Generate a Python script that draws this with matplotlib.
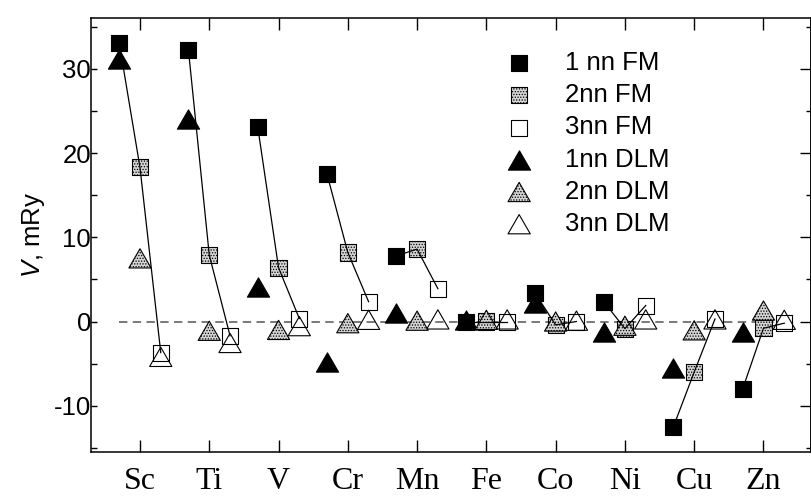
import matplotlib
matplotlib.use("Agg")
import matplotlib.pyplot as plt
from matplotlib.path import Path
from matplotlib.ticker import MultipleLocator
import numpy as np

# Pair interaction parameters V (mRy) for 3d impurities
elements = ['Sc', 'Ti', 'V', 'Cr', 'Mn', 'Fe', 'Co', 'Ni', 'Cu', 'Zn']
fm_1nn = [33.1, 32.2, 23.1, 17.5, 7.8, 0.0, 3.4, 2.3, -12.5, -8.0]
fm_2nn = [18.3, 7.9, 6.4, 8.2, 8.6, 0.0, -0.4, -0.85, -6.0, -0.8]
fm_3nn = [-3.7, -1.7, 0.35, 2.35, 3.9, 0.0, 0.0, 1.9, 0.3, -0.2]
dlm_1nn = [31.2, 24.0, 4.1, -4.8, 1.05, 0.2, 2.2, -1.3, -5.5, -1.3]
dlm_2nn = [7.5, -1.1, -1.0, -0.2, 0.1, 0.2, 0.0, -0.5, -1.05, 1.3]
dlm_3nn = [-4.2, -2.55, -0.55, 0.2, 0.25, 0.25, 0.1, 0.25, 0.25, 0.2]

plt.rcParams['font.family'] = ['Liberation Sans', 'DejaVu Sans']
plt.rcParams['mathtext.fontset'] = 'custom'
plt.rcParams['mathtext.it'] = 'Liberation Sans:italic'
plt.rcParams['mathtext.rm'] = 'Liberation Sans'
plt.rcParams['hatch.linewidth'] = 0.6
plt.rcParams['axes.unicode_minus'] = False

fig = plt.figure(figsize=(8.11, 4.98), dpi=100)
ax = fig.add_axes([91 / 811, 1 - 452 / 498, 1 - 91 / 811 - 0.0005, (452 - 18) / 498])

x = np.arange(len(elements))
shift = 0.3
pos1, pos2, pos3 = x - shift, x, x + shift

tri = Path([(0, 0.866), (-1, -0.866), (1, -0.866), (0, 0.866)],
           [Path.MOVETO, Path.LINETO, Path.LINETO, Path.CLOSEPOLY])
sq_size = 11.6 ** 2
tri_size = 16.0 ** 2
stipple = dict(facecolor='#d4d4d4', hatch='......', edgecolor='black')

# zero reference line
ax.plot([pos1[0], pos3[-1]], [0, 0], color='#555555', lw=1.1,
        dashes=(5.5, 3.5), zorder=1)

h1 = ax.scatter(pos1, fm_1nn, s=sq_size, marker='s', facecolor='black',
                edgecolor='black', linewidth=0.8, zorder=3, label='1 nn FM')
h2 = ax.scatter(pos2, fm_2nn, s=sq_size, marker='s', linewidth=0.8,
                zorder=3, label='2nn FM', **stipple)
h3 = ax.scatter(pos3, fm_3nn, s=sq_size, marker='s', facecolor='white',
                edgecolor='black', linewidth=0.8, zorder=3, label='3nn FM')
h4 = ax.scatter(pos1, dlm_1nn, s=tri_size, marker=tri, facecolor='black',
                edgecolor='black', linewidth=0.8, zorder=4, label='1nn DLM')
h5 = ax.scatter(pos2, dlm_2nn, s=tri_size, marker=tri, linewidth=0.8,
                zorder=4, label='2nn DLM', **stipple)
h6 = ax.scatter(pos3, dlm_3nn, s=tri_size, marker=tri, facecolor='none',
                edgecolor='black', linewidth=0.8, zorder=4, label='3nn DLM')

# FM parameters of each element joined 1nn -> 2nn -> 3nn
for i in range(len(elements)):
    ax.plot([pos1[i], pos2[i], pos3[i]], [fm_1nn[i], fm_2nn[i], fm_3nn[i]],
            color='black', lw=0.9, zorder=5)

ax.set_xlim(-0.707, 9.68)
ax.set_ylim(-15.5, 36.05)

ax.set_xticks(x)
ax.set_xticklabels(elements, family='Liberation Serif', fontsize=23)
ax.yaxis.set_major_locator(MultipleLocator(10))
ax.yaxis.set_minor_locator(MultipleLocator(5))
ax.tick_params(axis='x', direction='in', length=8.6, width=1.0,
               top=True, bottom=True, pad=10.5)
ax.tick_params(axis='y', which='both', direction='in', length=4.3, width=1.0,
               labelsize=18.5, pad=0, left=True, right=False)

right = ax.secondary_yaxis('right')
right.yaxis.set_major_locator(MultipleLocator(10))
right.yaxis.set_minor_locator(MultipleLocator(5))
right.tick_params(which='major', direction='in', length=8, width=1.0, labelright=False)
right.tick_params(which='minor', direction='in', length=3.6, width=1.0)
right.spines['right'].set_linewidth(1.1)

for sp in ax.spines.values():
    sp.set_linewidth(1.1)

ax.set_ylabel('$V$, mRy', fontsize=18.5, labelpad=5)

ax.legend(handles=[h1, h2, h3, h4, h5, h6], loc='upper left',
          bbox_to_anchor=(0.545, 0.948), frameon=False, fontsize=18.5,
          labelspacing=0.32, handletextpad=0.8, borderaxespad=0.0,
          scatterpoints=1)

fig.savefig('out.png', dpi=100)
